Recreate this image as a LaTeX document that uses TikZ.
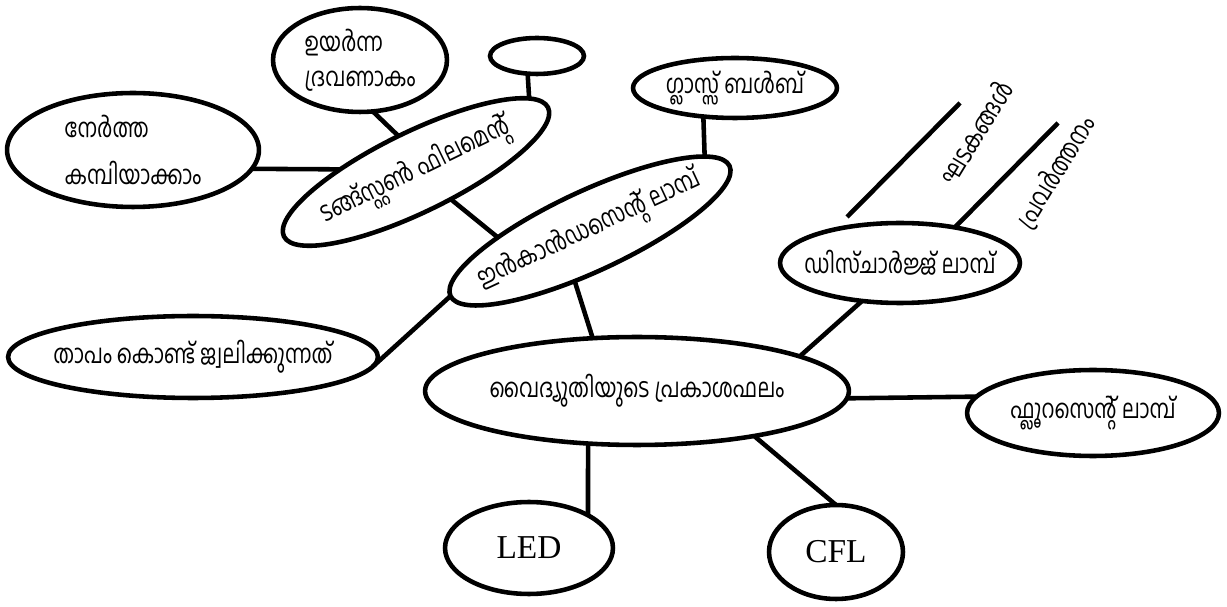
\documentclass[tikz,border=0pt]{standalone}
\usepackage{fontspec}
\usetikzlibrary{shapes.geometric}
\newfontfamily\mlfont[Script=Malayalam, FakeStretch=0.78]{Hind Kochi}
\newfontfamily\serfont{Liberation Serif}
\newcommand\zw[1]{\makebox[0pt]{#1}}

\begin{document}
\begin{tikzpicture}[x=0.02cm, y=-0.02cm,
	ell/.style 2 args={ellipse, draw, line width=2.6pt, minimum width=#1*0.04cm,
		minimum height=#2*0.04cm, inner sep=0pt, outer sep=0pt,
		font=\mlfont\fontsize{15}{19}\selectfont},
	latin/.style={font=\serfont\fontsize{19}{22}\selectfont},
	link/.style={line width=2.6pt},
	tag/.style={font=\mlfont\fontsize{15}{19}\selectfont, inner sep=0pt}]
	\useasboundingbox (0,0) rectangle (1227,607);
	% centre
	\node[ell={212}{54}] (cent) at (637,391) {\zw{വൈദ്യുതിയുടെ പ്രകാശഫലം}};
	% incandescent lamp and what hangs on it
	\node[ell={154}{40}, rotate=25] (inc) at (590,231) {\zw{ഇൻകാൻഡസെന്റ് ലാമ്പ്}};
	\node[ell={147}{40}, rotate=26] (tung) at (416,172) {\zw{ടങ്ങ്സ്റ്റൺ ഫിലമെന്റ്}};
	\node[ell={126}{57}, align=left] (thin) at (133,150) {നേർത്ത\\[8pt]കമ്പിയാക്കാം};
	\node[ell={87}{52}, align=left] (melt) at (360,60) {ഉയർന്ന\\[1pt]ദ്രവണാകം};
	\node[ell={47}{18}] (blank) at (537,56) {};
	\node[ell={102}{30}] (glass) at (735,88) {\zw{ഗ്ലാസ്സ് ബൾബ്}};
	\node[ell={185}{41}] (heat) at (193,357) {\zw{താപം കൊണ്ട് ജ്വലിക്കുന്നത്}};
	% discharge lamp side
	\node[ell={120}{40}] (disch) at (900,263) {\zw{ഡിസ്ചാർജ്ജ് ലാമ്പ്}};
	\node[ell={126}{43}] (fluo) at (1093,413) {\zw{ഫ്ലൂറസെന്റ് ലാമ്പ്}};
	\node[ell={67}{47}, latin] (cfl) at (836,552) {CFL};
	\node[ell={84}{46}, latin] (led) at (529,548) {LED};
	% links
	\draw[link] (cent.130) -- (inc.-132);
	\draw[link] (inc.159) -- (tung.-64);
	\draw[link] (inc.180) -- (heat.-3);
	\draw[link] (inc.8) -- (glass.-138);
	\draw[link] (tung.152) -- (thin.-9);
	\draw[link] (tung.90) -- (melt.-76);
	\draw[link] (tung.7) -- (blank.-118);
	\draw[link] (cent.12) -- (disch.-135);
	\draw[link] (cent.-2) -- (fluo.172);
	\draw[link] (cent.-21) -- (cfl.north);
	\draw[link] (cent.-133) -- (led.29);
	% open ends with their words
	\coordinate (partsfoot) at (847,217);
	\coordinate (partstop) at (960,103);
	\coordinate (worktop) at (1058,123);
	\draw[link] (partsfoot) -- (partstop);
	\draw[link] (disch.33) -- (worktop);
	\node[tag, rotate=58.7] (parts) at (975,132) {ഘടകങ്ങൾ};
	\node[tag, rotate=58.6] (work) at (1056,172) {പ്രവർത്തനം};
\end{tikzpicture}
\end{document}
